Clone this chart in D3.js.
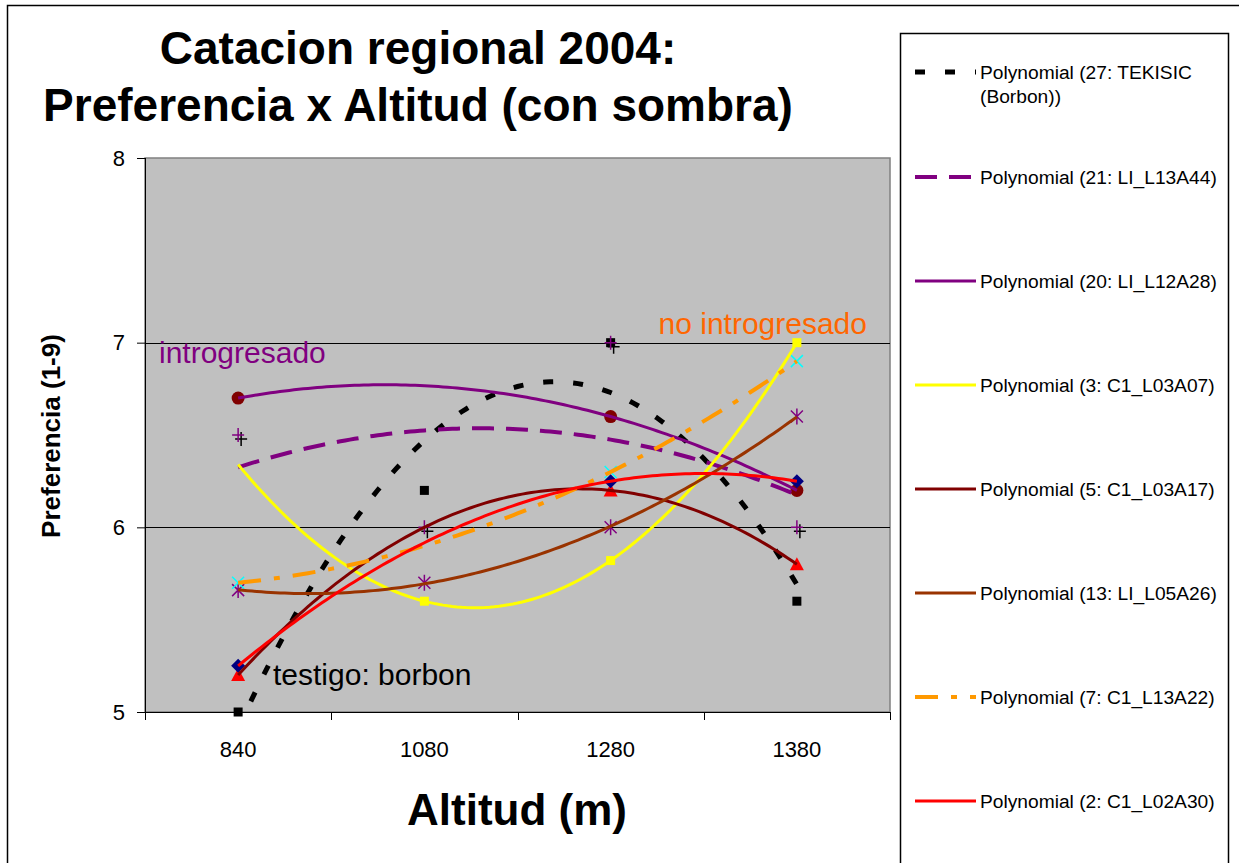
<!DOCTYPE html>
<html>
<head>
<meta charset="utf-8">
<script src="https://cdn.jsdelivr.net/npm/d3@7"></script>
<style>
  body { margin: 0; background: #fff; }
  text { font-family: "Liberation Sans", Arial, sans-serif; }
</style>
</head>
<body>
<svg width="1239" height="863"></svg>
<script>
// categories on the x axis (altitude, m)
var altitudes = ["840", "1080", "1280", "1380"];
var yTicks = [5, 6, 7, 8];

// scores per altitude (null = no value)
var tekisic  = [5.0, 6.2, 7.0, 5.6];     // black squares
var l13a44   = [6.5, 6.0, 7.0, 6.0];     // purple plus
var l12a28   = [6.7, null, 6.6, 6.2];    // dark red circles
var l03a07   = [null, 5.6, 5.82, 7.0];   // yellow squares
var l03a17   = [5.2, null, 6.2, 5.8];    // red triangles
var l05a26   = [5.66, 5.7, 6.0, 6.6];    // purple asterisks
var l13a22   = [5.7, null, 6.3, 6.9];    // cyan crosses
var l02a30   = [5.25, null, 6.25, 6.25]; // navy diamonds

var legendLabels = [
  ["Polynomial (27: TEKISIC", "(Borbon))"],
  ["Polynomial (21: LI_L13A44)"],
  ["Polynomial (20: LI_L12A28)"],
  ["Polynomial (3: C1_L03A07)"],
  ["Polynomial (5: C1_L03A17)"],
  ["Polynomial (13: LI_L05A26)"],
  ["Polynomial (7: C1_L13A22)"],
  ["Polynomial (2: C1_L02A30)"]
];

var series = [
  { values: tekisic, line: "#000000", dash: "10,20", lw: 5,  marker: "square",   mcolor: "#000000" },
  { values: l13a44,  line: "#800080", dash: "22,12", lw: 4,  marker: "plus",     mcolor: "#800080" },
  { values: l12a28,  line: "#800080", dash: null,    lw: 3,  marker: "circle",   mcolor: "#800000" },
  { values: l03a07,  line: "#FFFF00", dash: null,    lw: 3,  marker: "square",   mcolor: "#FFFF00" },
  { values: l03a17,  line: "#800000", dash: null,    lw: 3,  marker: "triangle", mcolor: "#FF0000" },
  { values: l05a26,  line: "#993300", dash: null,    lw: 3,  marker: "asterisk", mcolor: "#800080" },
  { values: l13a22,  line: "#FF9900", dash: "23,13,6,13", lw: 4, marker: "x",    mcolor: "#00FFFF" },
  { values: l02a30,  line: "#FF0000", dash: null,    lw: 3,  marker: "diamond",  mcolor: "#000080" }
];

var svg = d3.select("svg"),
    width = +svg.attr("width"),
    height = +svg.attr("height");

var plot = { left: 145, right: 890, top: 158, bottom: 712 };

var x = d3.scaleBand().domain(altitudes).range([plot.left, plot.right]).padding(0);
var xt = d3.scaleLinear().domain([0.5, altitudes.length + 0.5]).range([plot.left, plot.right]);
var y = d3.scaleLinear().domain([5, 8]).range([plot.bottom, plot.top]);

// chart frame + legend box
svg.append("rect").attr("x", 7.5).attr("y", 5.5).attr("width", 1300).attr("height", 1000)
  .attr("fill", "#fff").attr("stroke", "#000").attr("stroke-width", 1.5);
svg.append("rect").attr("x", 900.5).attr("y", 33.5).attr("width", 328).attr("height", 1000)
  .attr("fill", "#fff").attr("stroke", "#000").attr("stroke-width", 1.5);

// title
var title = svg.append("text").attr("text-anchor", "middle")
  .style("font-size", "46px").style("font-weight", "bold");
title.append("tspan").attr("x", 418).attr("y", 64).text("Catacion regional 2004:");
title.append("tspan").attr("x", 418).attr("y", 121).text("Preferencia x Altitud (con sombra)");

// plot area
svg.append("rect").attr("x", plot.left).attr("y", plot.top)
  .attr("width", plot.right - plot.left).attr("height", plot.bottom - plot.top)
  .attr("fill", "#C0C0C0").attr("stroke", "#808080").attr("stroke-width", 1.5);

svg.append("g").selectAll("line").data([6, 7]).enter().append("line")
  .attr("x1", plot.left).attr("x2", plot.right)
  .attr("y1", d => Math.round(y(d)) + 0.5).attr("y2", d => Math.round(y(d)) + 0.5)
  .attr("stroke", "#000").attr("stroke-width", 1);

// y axis
var yAxis = svg.append("g").attr("transform", "translate(" + plot.left + ",0)")
  .call(d3.axisLeft(y).tickValues(yTicks).tickSize(8).tickPadding(12).tickFormat(d3.format("d")));
yAxis.selectAll("text").style("font-size", "22px").attr("fill", "#000");
yAxis.selectAll("line, path").attr("stroke", "#000");
yAxis.select(".domain").attr("d", "M0.5," + plot.top + "V" + plot.bottom);

// x axis: ticks between categories
var xAxis = svg.append("g").attr("transform", "translate(0," + plot.bottom + ")");
xAxis.append("line").attr("x1", plot.left).attr("x2", plot.right).attr("y1", 0.5).attr("y2", 0.5)
  .attr("stroke", "#000");
xAxis.selectAll(".tk").data(d3.range(altitudes.length + 1)).enter().append("line")
  .attr("x1", d => Math.round(plot.left + d * x.bandwidth()) + 0.5)
  .attr("x2", d => Math.round(plot.left + d * x.bandwidth()) + 0.5)
  .attr("y1", 0).attr("y2", 8).attr("stroke", "#000");
xAxis.selectAll(".lbl").data(altitudes).enter().append("text")
  .attr("x", d => x(d) + x.bandwidth() / 2).attr("y", 45)
  .attr("text-anchor", "middle").style("font-size", "22px").text(d => d);

// axis titles
svg.append("text").attr("x", 517).attr("y", 825).attr("text-anchor", "middle")
  .style("font-size", "44px").style("font-weight", "bold").text("Altitud (m)");
svg.append("text").attr("transform", "translate(60,436) rotate(-90)").attr("text-anchor", "middle")
  .style("font-size", "26px").style("font-weight", "bold").text("Preferencia (1-9)");

// markers
function markerPath(type) {
  switch (type) {
    case "square": return "M-4.5,-4.5H4.5V4.5H-4.5Z";
    case "diamond": return "M0,-7L7,0L0,7L-7,0Z";
    case "triangle": return "M0,-7L7,6H-7Z";
    case "plus": return "M-6,0H6M0,-7V7";
    case "x": return "M-6,-6L6,6M-6,6L6,-6";
    case "asterisk": return "M-6,-6L6,6M-6,6L6,-6M0,-8V8";
  }
}

var cx = i => x(altitudes[i]) + x.bandwidth() / 2;

var markers = svg.append("g");
// black shadow cross behind the purple plus
markers.selectAll(".shadow").data(l13a44).enter().append("path")
  .attr("transform", (d, i) => "translate(" + (cx(i) + 3) + "," + (y(d) + 4) + ")")
  .attr("d", markerPath("plus")).attr("fill", "none").attr("stroke", "#000").attr("stroke-width", 1.5);

series.forEach(function (s) {
  var pts = s.values.map((v, i) => ({ i: i, v: v })).filter(p => p.v != null);
  var g = markers.append("g");
  if (s.marker === "circle") {
    g.selectAll("circle").data(pts).enter().append("circle")
      .attr("cx", p => cx(p.i)).attr("cy", p => y(p.v)).attr("r", 6.5).attr("fill", s.mcolor);
  } else {
    var filled = ["square", "diamond", "triangle"].indexOf(s.marker) >= 0;
    g.selectAll("path").data(pts).enter().append("path")
      .attr("transform", p => "translate(" + cx(p.i) + "," + y(p.v) + ")")
      .attr("d", markerPath(s.marker))
      .attr("fill", filled ? s.mcolor : "none")
      .attr("stroke", filled ? "none" : s.mcolor).attr("stroke-width", 1.5);
  }
});

// quadratic least-squares trendlines (x = 1..n, as in a line chart)
function quadFit(values) {
  var S = [0, 0, 0, 0, 0], T = [0, 0, 0];
  values.forEach(function (v, i) {
    if (v == null) return;
    var t = i + 1;
    for (var k = 0; k < 5; k++) S[k] += Math.pow(t, k);
    for (var k = 0; k < 3; k++) T[k] += v * Math.pow(t, k);
  });
  var M = [[S[0], S[1], S[2]], [S[1], S[2], S[3]], [S[2], S[3], S[4]]];
  function det(A) {
    return A[0][0] * (A[1][1] * A[2][2] - A[1][2] * A[2][1])
         - A[0][1] * (A[1][0] * A[2][2] - A[1][2] * A[2][0])
         + A[0][2] * (A[1][0] * A[2][1] - A[1][1] * A[2][0]);
  }
  var D = det(M);
  return [0, 1, 2].map(function (c) {
    var A = M.map((row, r) => row.map((val, k) => k === c ? T[r] : val));
    return det(A) / D;
  });
}

svg.append("clipPath").attr("id", "clip").append("rect")
  .attr("x", plot.left).attr("y", plot.top)
  .attr("width", plot.right - plot.left).attr("height", plot.bottom - plot.top);

var trendLine = d3.line().x(d => xt(d[0])).y(d => y(d[1]));
var samples = d3.range(0, 121).map(k => 1 + (altitudes.length - 1) * k / 120);

var trends = svg.append("g").attr("clip-path", "url(#clip)");
series.forEach(function (s) {
  var c = quadFit(s.values);
  var pts = samples.map(t => [t, c[0] + c[1] * t + c[2] * t * t]);
  trends.append("path").datum(pts).attr("d", trendLine)
    .attr("fill", "none").attr("stroke", s.line).attr("stroke-width", s.lw)
    .attr("stroke-dasharray", s.dash);
});

// annotations
svg.append("text").attr("x", 159).attr("y", 363).style("font-size", "30px")
  .attr("fill", "#800080").text("introgresado");
svg.append("text").attr("x", 867).attr("y", 334).attr("text-anchor", "end").style("font-size", "30px")
  .attr("fill", "#FF6600").text("no introgresado");
svg.append("text").attr("x", 273).attr("y", 685).style("font-size", "30px")
  .attr("fill", "#000").text("testigo: borbon");

// legend
var legend = svg.append("g");
var rowY = [72, 177, 281, 385, 489, 593, 697, 801];
series.forEach(function (s, i) {
  var row = legend.append("g").attr("transform", "translate(0," + rowY[i] + ")");
  row.append("line").attr("x1", 915).attr("x2", 976).attr("y1", 0).attr("y2", 0)
    .attr("stroke", s.line).attr("stroke-width", s.lw).attr("stroke-dasharray", s.dash);
  var t = row.append("text").style("font-size", "19.2px").attr("fill", "#000");
  legendLabels[i].forEach(function (line, j) {
    t.append("tspan").attr("x", 980).attr("y", 6.5 + j * 24).text(line);
  });
});
</script>
</body>
</html>
